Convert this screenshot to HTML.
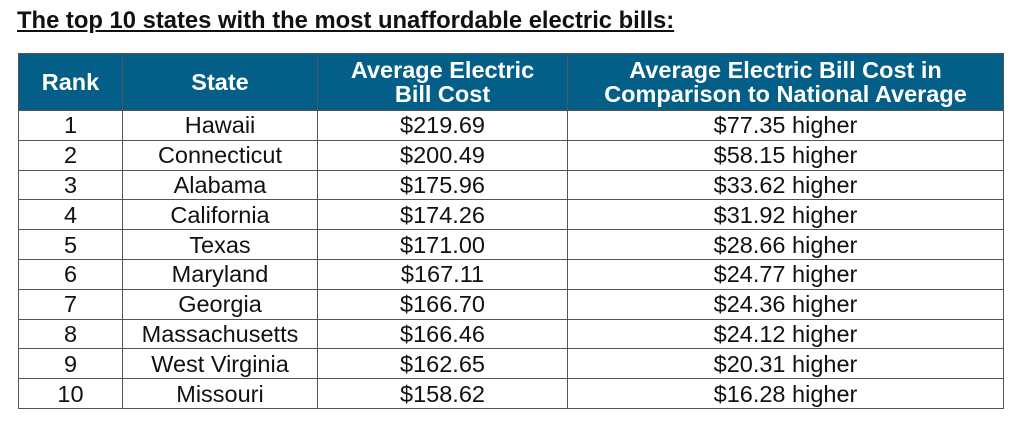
<!DOCTYPE html>
<html><head><meta charset="utf-8"><style>
body{margin:0;width:1024px;height:426px;background:#fff;font-family:"Liberation Sans",Arial,sans-serif;position:relative;overflow:hidden}
#title{position:absolute;left:17px;top:7px;font-size:23.8px;font-weight:bold;text-decoration:underline;color:#111;white-space:nowrap}
table{position:absolute;left:18px;top:53px;border-collapse:collapse;table-layout:fixed}
td,th{border:1.5px solid #555;text-align:center;padding:0;font-size:23.5px;color:#111;line-height:24px;overflow:hidden;white-space:nowrap}
th{background:#035f87;color:#fff;font-weight:bold;height:56px;line-height:24px}
td{height:28.8px}
</style></head><body>
<div id="title">The top 10 states with the most unaffordable electric bills:</div>
<table>
<colgroup><col style="width:104px"><col style="width:195px"><col style="width:250px"><col style="width:436px"></colgroup>
<thead><tr>
<th>Rank</th>
<th>State</th>
<th>Average Electric<br>Bill Cost</th>
<th>Average Electric Bill Cost in<br>Comparison to National Average</th>
</tr></thead>
<tbody id="tb"></tbody>
</table>
<script>
const ranks=[1,2,3,4,5,6,7,8,9,10];
const states=["Hawaii","Connecticut","Alabama","California","Texas","Maryland","Georgia","Massachusetts","West Virginia","Missouri"];
const costs=["$219.69","$200.49","$175.96","$174.26","$171.00","$167.11","$166.70","$166.46","$162.65","$158.62"];
const diffs=["$77.35 higher","$58.15 higher","$33.62 higher","$31.92 higher","$28.66 higher","$24.77 higher","$24.36 higher","$24.12 higher","$20.31 higher","$16.28 higher"];
const tb=document.getElementById('tb');
const names=['rank-cell','state-cell','cost-cell','comparison-cell'];
for(let i=0;i<ranks.length;i++){
  const tr=document.createElement('tr');
  
  
  [ranks[i],states[i],costs[i],diffs[i]].forEach((v,j)=>{
    const td=document.createElement('td');
    td.textContent=v;
    
    
    tr.appendChild(td);
  });
  tb.appendChild(tr);
}
</script>
</body></html>
